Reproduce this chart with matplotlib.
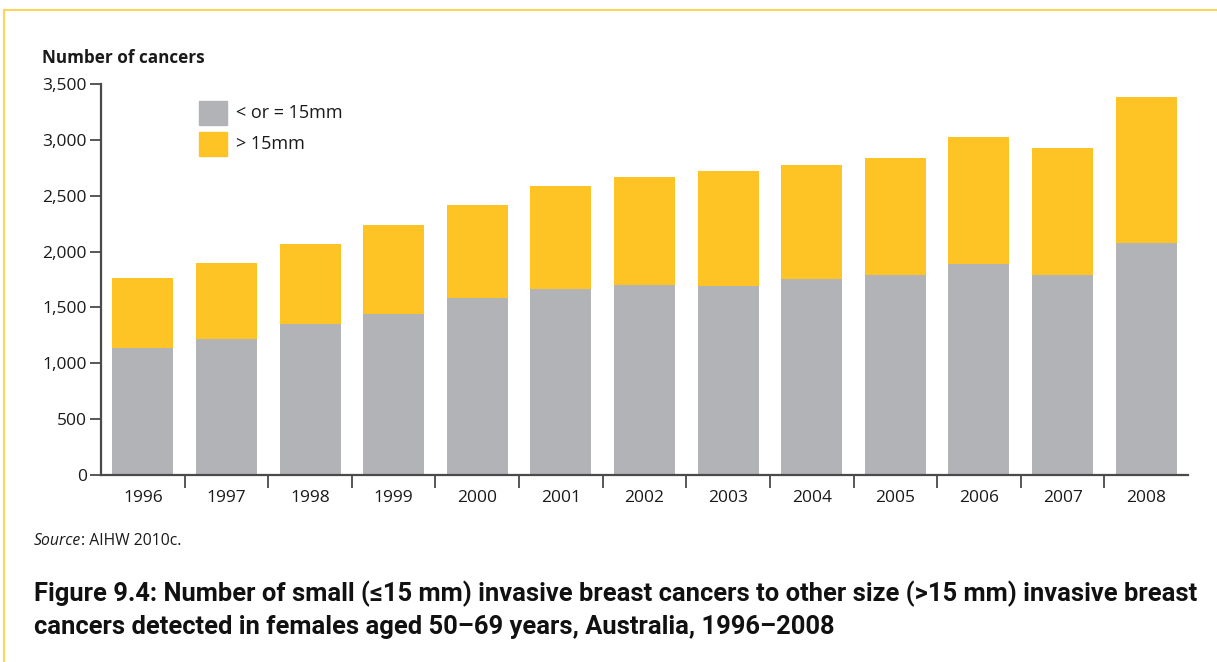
import numpy as np
import matplotlib.pyplot as plt
from matplotlib.lines import Line2D
from matplotlib.patches import Rectangle

# Data
years = ["1996", "1997", "1998", "1999", "2000", "2001", "2002",
         "2003", "2004", "2005", "2006", "2007", "2008"]
small = [1139, 1217, 1354, 1444, 1587, 1668, 1701, 1695, 1757, 1790, 1889, 1790, 2077]
totals = [1763, 1898, 2068, 2239, 2418, 2588, 2669, 2723, 2777, 2840, 3028, 2929, 3386]
large = [t - s for t, s in zip(totals, small)]
y_ticks = [0, 500, 1000, 1500, 2000, 2500, 3000, 3500]

GREY = "#B1B3B6"
YELLOW = "#FEC426"
AXIS = "#4A4A4A"
FRAME = "#FFD65C"
TXT = "#1a1a1a"

plt.rcParams["font.family"] = ["Open Sans", "DejaVu Sans"]

fig = plt.figure(figsize=(12.17, 6.62), dpi=100)
ax = fig.add_axes([101 / 1217, 1 - 474.7 / 662, (1188 - 101) / 1217, (474.7 - 84.3) / 662])

x = np.arange(len(years))
ax.bar(x, small, width=0.73, color=GREY, label="< or = 15mm")
ax.bar(x, large, width=0.73, bottom=small, color=YELLOW, label="> 15mm")

ax.set_xlim(-0.5, len(years) - 0.5)
ax.set_ylim(0, 3500)
ax.set_yticks(y_ticks)
ax.set_yticklabels([f"{v:,}" for v in y_ticks], fontsize=12.5, color=TXT)
ax.set_xticks(x)
ax.set_xticklabels(years, fontsize=12.5, color=TXT)
ax.set_xticks(x[:-1] + 0.5, minor=True)
ax.tick_params(axis="x", which="major", length=0, pad=11)
ax.tick_params(axis="x", which="minor", length=9, width=1.3, color=AXIS, direction="out")
ax.tick_params(axis="y", length=8, width=1.3, color=AXIS, pad=2)

for side in ("top", "right"):
    ax.spines[side].set_visible(False)
for side in ("left", "bottom"):
    ax.spines[side].set_color(AXIS)
    ax.spines[side].set_linewidth(1.6)

# legend drawn as squares + text to match the reference layout
fig.patches.append(Rectangle((199 / 1217, 1 - 125 / 662), 28 / 1217, 24 / 662,
                             transform=fig.transFigure, color=GREY))
fig.patches.append(Rectangle((199 / 1217, 1 - 156 / 662), 28 / 1217, 24 / 662,
                             transform=fig.transFigure, color=YELLOW))
fig.text(236 / 1217, 1 - 113 / 662, "< or = 15mm", fontsize=13, va="center", color=TXT)
fig.text(236 / 1217, 1 - 144 / 662, "> 15mm", fontsize=13, va="center", color=TXT)

fig.text(42 / 1217, 1 - 58 / 662, "Number of cancers", fontsize=12.3, fontweight="bold",
         va="center", color=TXT)

src = fig.text(34 / 1217, 1 - 549 / 662, "Source", fontsize=11.3, style="italic",
               va="bottom", color=TXT)
ax.annotate(": AIHW 2010c.", xy=(1, 0), xycoords=src, va="bottom", fontsize=11.3, color=TXT)

fig.text(34 / 1217, 1 - 610 / 662,
         "Figure 9.4: Number of small (\u226415 mm) invasive breast cancers to other size (>15 mm) invasive breast\n"
         "cancers detected in females aged 50\u201369 years, Australia, 1996\u20132008",
         fontsize=18.4, fontweight="bold", va="center", linespacing=1.4,
         family=["Roboto", "DejaVu Sans"], color="#111111")

# yellow frame lines
fig.add_artist(Line2D([4 / 1217, 4 / 1217], [0, 1 - 10 / 662], transform=fig.transFigure,
                      color=FRAME, linewidth=1.5))
fig.add_artist(Line2D([4 / 1217, 1], [1 - 10 / 662, 1 - 10 / 662], transform=fig.transFigure,
                      color=FRAME, linewidth=1.5))

fig.savefig("out.png", dpi=100)
